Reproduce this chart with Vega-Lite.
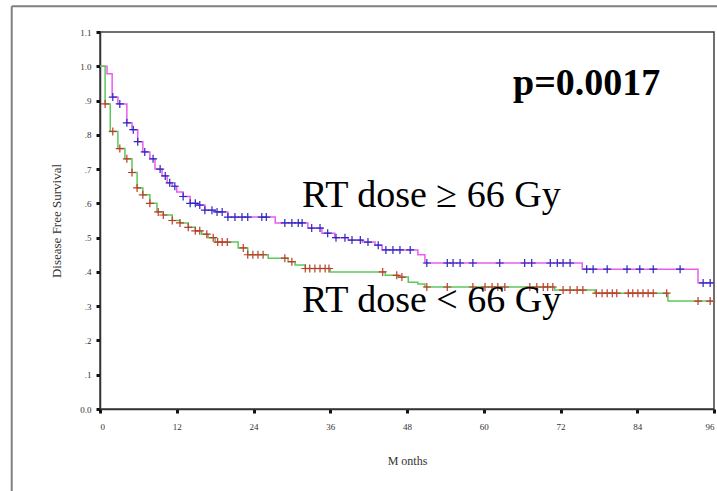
{
  "$schema": "https://vega.github.io/schema/vega-lite/v6.json",
  "width": 614,
  "height": 377,
  "autosize": {"type": "none"},
  "padding": {"left": 100, "top": 32, "right": 3, "bottom": 82},
  "background": "white",
  "config": {
    "view": {"stroke": "#404040", "strokeWidth": 1.5},
    "font": "Liberation Serif",
    "axis": {
      "grid": false, "labelFontSize": 9, "labelColor": "#333",
      "tickSize": 4, "tickWidth": 3, "tickColor": "#111", "domainColor": "#333", "domainWidth": 1.5,
      "titleFontWeight": "normal", "titleColor": "#333"
    }
  },
  "datasets": {
    "steps": [
      {"g": "hi", "m": 0, "s": 1.0}, {"g": "hi", "m": 1.1, "s": 0.978}, {"g": "hi", "m": 1.9, "s": 0.91}, {"g": "hi", "m": 2.8, "s": 0.89},
      {"g": "hi", "m": 4.2, "s": 0.835}, {"g": "hi", "m": 5.0, "s": 0.815}, {"g": "hi", "m": 5.9, "s": 0.78}, {"g": "hi", "m": 6.7, "s": 0.75},
      {"g": "hi", "m": 7.8, "s": 0.73}, {"g": "hi", "m": 8.6, "s": 0.70}, {"g": "hi", "m": 9.7, "s": 0.68}, {"g": "hi", "m": 10.5, "s": 0.66},
      {"g": "hi", "m": 11.3, "s": 0.65}, {"g": "hi", "m": 12.0, "s": 0.633}, {"g": "hi", "m": 13.0, "s": 0.62}, {"g": "hi", "m": 14.1, "s": 0.60},
      {"g": "hi", "m": 15.2, "s": 0.595}, {"g": "hi", "m": 16.4, "s": 0.58}, {"g": "hi", "m": 18.0, "s": 0.575}, {"g": "hi", "m": 20.0, "s": 0.56},
      {"g": "hi", "m": 27.4, "s": 0.543}, {"g": "hi", "m": 32.5, "s": 0.528}, {"g": "hi", "m": 34.7, "s": 0.513}, {"g": "hi", "m": 36.7, "s": 0.50},
      {"g": "hi", "m": 38.8, "s": 0.493}, {"g": "hi", "m": 41.0, "s": 0.487}, {"g": "hi", "m": 43.0, "s": 0.478}, {"g": "hi", "m": 44.1, "s": 0.464},
      {"g": "hi", "m": 49.7, "s": 0.45}, {"g": "hi", "m": 50.8, "s": 0.426}, {"g": "hi", "m": 75.4, "s": 0.408}, {"g": "hi", "m": 93.5, "s": 0.368},
      {"g": "hi", "m": 96, "s": 0.368},
      {"g": "lo", "m": 0, "s": 1.0}, {"g": "lo", "m": 0.8, "s": 0.89}, {"g": "lo", "m": 1.6, "s": 0.81}, {"g": "lo", "m": 2.8, "s": 0.76},
      {"g": "lo", "m": 3.9, "s": 0.73}, {"g": "lo", "m": 5.0, "s": 0.69}, {"g": "lo", "m": 5.8, "s": 0.645}, {"g": "lo", "m": 6.7, "s": 0.625},
      {"g": "lo", "m": 7.8, "s": 0.60}, {"g": "lo", "m": 8.9, "s": 0.575}, {"g": "lo", "m": 9.9, "s": 0.566}, {"g": "lo", "m": 11.3, "s": 0.55},
      {"g": "lo", "m": 12.5, "s": 0.543}, {"g": "lo", "m": 13.8, "s": 0.53}, {"g": "lo", "m": 14.9, "s": 0.52}, {"g": "lo", "m": 15.9, "s": 0.51},
      {"g": "lo", "m": 16.9, "s": 0.50}, {"g": "lo", "m": 18.0, "s": 0.487}, {"g": "lo", "m": 21.6, "s": 0.47}, {"g": "lo", "m": 23.1, "s": 0.45},
      {"g": "lo", "m": 26.3, "s": 0.44}, {"g": "lo", "m": 29.4, "s": 0.43}, {"g": "lo", "m": 30.5, "s": 0.42}, {"g": "lo", "m": 32.1, "s": 0.41},
      {"g": "lo", "m": 36.0, "s": 0.40}, {"g": "lo", "m": 44.6, "s": 0.39}, {"g": "lo", "m": 46.6, "s": 0.385}, {"g": "lo", "m": 48.2, "s": 0.37},
      {"g": "lo", "m": 49.7, "s": 0.365}, {"g": "lo", "m": 50.8, "s": 0.356}, {"g": "lo", "m": 71.1, "s": 0.347}, {"g": "lo", "m": 77.4, "s": 0.338},
      {"g": "lo", "m": 88.8, "s": 0.315}, {"g": "lo", "m": 96, "s": 0.315}
    ],
    "censor": [
      {"g": "hi", "m": 2.0, "s": 0.91}, {"g": "hi", "m": 3.1, "s": 0.89}, {"g": "hi", "m": 4.2, "s": 0.835}, {"g": "hi", "m": 5.2, "s": 0.815},
      {"g": "hi", "m": 5.9, "s": 0.78}, {"g": "hi", "m": 7.0, "s": 0.75}, {"g": "hi", "m": 8.3, "s": 0.73}, {"g": "hi", "m": 9.4, "s": 0.70},
      {"g": "hi", "m": 10.2, "s": 0.68}, {"g": "hi", "m": 10.9, "s": 0.66}, {"g": "hi", "m": 11.7, "s": 0.65}, {"g": "hi", "m": 13.0, "s": 0.62},
      {"g": "hi", "m": 14.1, "s": 0.60}, {"g": "hi", "m": 14.9, "s": 0.60}, {"g": "hi", "m": 15.6, "s": 0.595}, {"g": "hi", "m": 16.4, "s": 0.58},
      {"g": "hi", "m": 17.5, "s": 0.58}, {"g": "hi", "m": 18.3, "s": 0.575}, {"g": "hi", "m": 19.1, "s": 0.575}, {"g": "hi", "m": 20.0, "s": 0.56},
      {"g": "hi", "m": 21.1, "s": 0.56}, {"g": "hi", "m": 22.2, "s": 0.56}, {"g": "hi", "m": 23.1, "s": 0.56}, {"g": "hi", "m": 25.3, "s": 0.56},
      {"g": "hi", "m": 26.0, "s": 0.56}, {"g": "hi", "m": 28.9, "s": 0.543}, {"g": "hi", "m": 30.0, "s": 0.543}, {"g": "hi", "m": 31.0, "s": 0.543},
      {"g": "hi", "m": 31.6, "s": 0.543}, {"g": "hi", "m": 33.1, "s": 0.528}, {"g": "hi", "m": 34.4, "s": 0.528}, {"g": "hi", "m": 35.6, "s": 0.513},
      {"g": "hi", "m": 36.9, "s": 0.50}, {"g": "hi", "m": 38.3, "s": 0.50}, {"g": "hi", "m": 39.4, "s": 0.493}, {"g": "hi", "m": 40.7, "s": 0.493},
      {"g": "hi", "m": 41.9, "s": 0.487}, {"g": "hi", "m": 43.5, "s": 0.478}, {"g": "hi", "m": 44.7, "s": 0.464}, {"g": "hi", "m": 45.8, "s": 0.464},
      {"g": "hi", "m": 46.9, "s": 0.464}, {"g": "hi", "m": 48.5, "s": 0.464}, {"g": "hi", "m": 51.1, "s": 0.426}, {"g": "hi", "m": 54.3, "s": 0.426},
      {"g": "hi", "m": 55.2, "s": 0.426}, {"g": "hi", "m": 56.3, "s": 0.426}, {"g": "hi", "m": 58.3, "s": 0.426}, {"g": "hi", "m": 62.5, "s": 0.426},
      {"g": "hi", "m": 66.4, "s": 0.426}, {"g": "hi", "m": 67.5, "s": 0.426}, {"g": "hi", "m": 70.4, "s": 0.426}, {"g": "hi", "m": 71.5, "s": 0.426},
      {"g": "hi", "m": 72.4, "s": 0.426}, {"g": "hi", "m": 73.5, "s": 0.426}, {"g": "hi", "m": 76.1, "s": 0.408}, {"g": "hi", "m": 77.1, "s": 0.408},
      {"g": "hi", "m": 79.3, "s": 0.408}, {"g": "hi", "m": 82.4, "s": 0.408}, {"g": "hi", "m": 84.4, "s": 0.408}, {"g": "hi", "m": 86.5, "s": 0.408},
      {"g": "hi", "m": 90.7, "s": 0.408}, {"g": "hi", "m": 94.3, "s": 0.368}, {"g": "hi", "m": 95.4, "s": 0.368},
      {"g": "lo", "m": 0.8, "s": 0.89}, {"g": "lo", "m": 2.0, "s": 0.81}, {"g": "lo", "m": 3.1, "s": 0.76}, {"g": "lo", "m": 4.2, "s": 0.73},
      {"g": "lo", "m": 5.0, "s": 0.69}, {"g": "lo", "m": 5.8, "s": 0.645}, {"g": "lo", "m": 6.7, "s": 0.625}, {"g": "lo", "m": 7.8, "s": 0.60},
      {"g": "lo", "m": 9.1, "s": 0.575}, {"g": "lo", "m": 9.9, "s": 0.566}, {"g": "lo", "m": 11.3, "s": 0.55}, {"g": "lo", "m": 12.5, "s": 0.543},
      {"g": "lo", "m": 13.8, "s": 0.53}, {"g": "lo", "m": 14.9, "s": 0.52}, {"g": "lo", "m": 15.6, "s": 0.52}, {"g": "lo", "m": 16.7, "s": 0.51},
      {"g": "lo", "m": 17.7, "s": 0.50}, {"g": "lo", "m": 18.4, "s": 0.487}, {"g": "lo", "m": 19.1, "s": 0.487}, {"g": "lo", "m": 19.9, "s": 0.487},
      {"g": "lo", "m": 22.4, "s": 0.47}, {"g": "lo", "m": 23.1, "s": 0.45}, {"g": "lo", "m": 23.9, "s": 0.45}, {"g": "lo", "m": 24.7, "s": 0.45},
      {"g": "lo", "m": 25.5, "s": 0.45}, {"g": "lo", "m": 28.9, "s": 0.44}, {"g": "lo", "m": 30.0, "s": 0.43}, {"g": "lo", "m": 32.1, "s": 0.41},
      {"g": "lo", "m": 32.8, "s": 0.41}, {"g": "lo", "m": 33.6, "s": 0.41}, {"g": "lo", "m": 34.4, "s": 0.41}, {"g": "lo", "m": 35.2, "s": 0.41},
      {"g": "lo", "m": 35.8, "s": 0.41}, {"g": "lo", "m": 44.2, "s": 0.40}, {"g": "lo", "m": 46.4, "s": 0.39}, {"g": "lo", "m": 47.2, "s": 0.385},
      {"g": "lo", "m": 51.1, "s": 0.356}, {"g": "lo", "m": 54.3, "s": 0.356}, {"g": "lo", "m": 58.3, "s": 0.356}, {"g": "lo", "m": 60.2, "s": 0.356},
      {"g": "lo", "m": 61.3, "s": 0.356}, {"g": "lo", "m": 62.2, "s": 0.356}, {"g": "lo", "m": 63.3, "s": 0.356}, {"g": "lo", "m": 67.2, "s": 0.356},
      {"g": "lo", "m": 68.3, "s": 0.356}, {"g": "lo", "m": 69.3, "s": 0.356}, {"g": "lo", "m": 70.0, "s": 0.356}, {"g": "lo", "m": 70.8, "s": 0.356},
      {"g": "lo", "m": 72.4, "s": 0.347}, {"g": "lo", "m": 73.5, "s": 0.347}, {"g": "lo", "m": 74.6, "s": 0.347}, {"g": "lo", "m": 75.5, "s": 0.347},
      {"g": "lo", "m": 77.6, "s": 0.338}, {"g": "lo", "m": 78.5, "s": 0.338}, {"g": "lo", "m": 79.3, "s": 0.338}, {"g": "lo", "m": 80.1, "s": 0.338},
      {"g": "lo", "m": 80.8, "s": 0.338}, {"g": "lo", "m": 82.6, "s": 0.338}, {"g": "lo", "m": 83.3, "s": 0.338}, {"g": "lo", "m": 84.1, "s": 0.338},
      {"g": "lo", "m": 84.9, "s": 0.338}, {"g": "lo", "m": 85.7, "s": 0.338}, {"g": "lo", "m": 86.5, "s": 0.338}, {"g": "lo", "m": 88.6, "s": 0.338},
      {"g": "lo", "m": 93.5, "s": 0.315}, {"g": "lo", "m": 95.4, "s": 0.315}
    ],
    "notes": [
      {"label": "p=0.0017", "m": 76.1, "s": 0.916, "kind": "p"},
      {"label": "RT dose ≥ 66 Gy", "m": 31.6, "s": 0.589, "kind": "dose"},
      {"label": "RT dose < 66 Gy", "m": 31.6, "s": 0.283, "kind": "dose"}
    ]
  },
  "encoding": {
    "x": {
      "type": "quantitative",
      "title": "M onths",
      "scale": {"domain": [0, 96], "nice": false, "zero": false},
      "axis": {
        "values": [0, 12, 24, 36, 48, 60, 72, 84, 96],
        "labelPadding": 9, "titleFontSize": 12, "titlePadding": 24
      }
    },
    "y": {
      "type": "quantitative",
      "title": "Disease Free Survival",
      "scale": {"domain": [0, 1.1], "nice": false},
      "axis": {
        "values": [0, 0.1, 0.2, 0.3, 0.4, 0.5, 0.6, 0.7, 0.8, 0.9, 1.0, 1.1],
        "labelExpr": "datum.value >= 0.95 || datum.value < 0.05 ? format(datum.value, '.1f') : replace(format(datum.value, '.1f'), '0.', '.')",
        "labelPadding": 5, "titleFontSize": 13, "titlePadding": 16
      }
    }
  },
  "layer": [
    {
      "data": {"values": [{}]},
      "mark": {"type": "rule", "color": "#808080", "strokeWidth": 2, "clip": false},
      "encoding": {
        "x": {"datum": -13.8},
        "y": {"datum": -0.4},
        "y2": {"datum": 1.175}
      }
    },
    {
      "data": {"values": [{}]},
      "mark": {"type": "rule", "color": "#808080", "strokeWidth": 2, "clip": false},
      "encoding": {
        "x": {"datum": -13.8},
        "x2": {"datum": 120},
        "y": {"datum": 1.175}
      }
    },
    {
      "data": {"name": "steps"},
      "mark": {"type": "line", "interpolate": "step-after", "strokeWidth": 1.5},
      "encoding": {
        "x": {"field": "m"},
        "y": {"field": "s"},
        "color": {"field": "g", "type": "nominal", "scale": {"domain": ["hi", "lo"], "range": ["#ec5cec", "#5cc85c"]}, "legend": null}
      }
    },
    {
      "data": {"name": "censor"},
      "mark": {"type": "point", "shape": "M-1,0L1,0M0,-1L0,1", "filled": false, "size": 64, "strokeWidth": 1.2, "opacity": 1},
      "encoding": {
        "x": {"field": "m"},
        "y": {"field": "s"},
        "stroke": {"field": "g", "type": "nominal", "scale": {"domain": ["hi", "lo"], "range": ["#2828c0", "#c03a28"]}, "legend": null}
      }
    },
    {
      "data": {"name": "notes"},
      "transform": [{"filter": "datum.kind == 'p'"}],
      "mark": {"type": "text", "font": "Liberation Serif", "fontSize": 38, "fontWeight": "bold", "align": "center", "baseline": "alphabetic", "color": "black"},
      "encoding": {
        "x": {"field": "m"},
        "y": {"field": "s"},
        "text": {"field": "label"}
      }
    },
    {
      "data": {"name": "notes"},
      "transform": [{"filter": "datum.kind == 'dose'"}],
      "mark": {"type": "text", "font": "Liberation Serif", "fontSize": 38, "align": "left", "baseline": "alphabetic", "color": "black"},
      "encoding": {
        "x": {"field": "m"},
        "y": {"field": "s"},
        "text": {"field": "label"}
      }
    }
  ],
  "resolve": {"scale": {"color": "independent", "stroke": "independent"}}
}
